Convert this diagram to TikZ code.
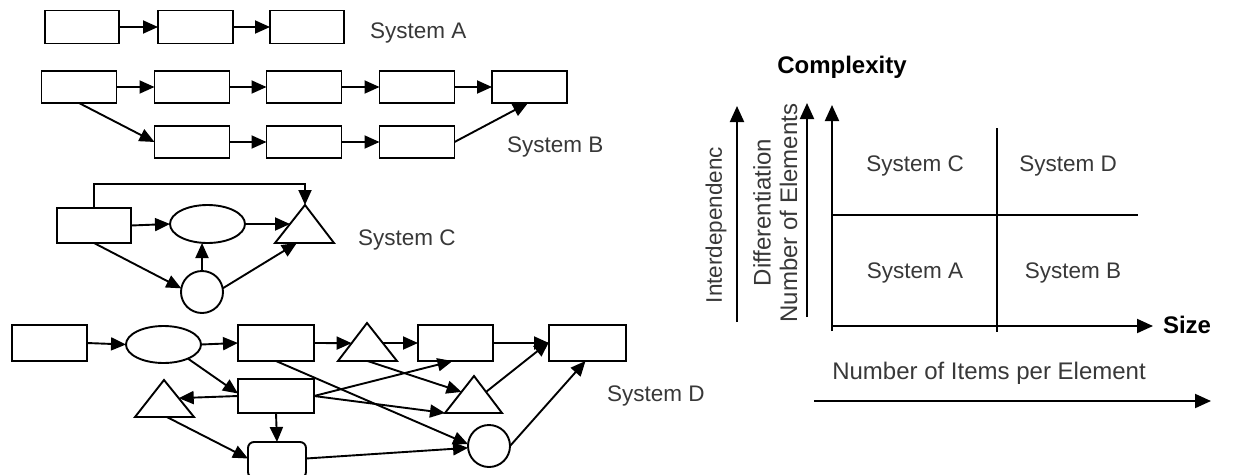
\documentclass[tikz,border=0pt]{standalone}
\usepackage{fontspec}
\setmainfont{Liberation Sans}
\usetikzlibrary{arrows.meta,shapes.geometric,calc}
\begin{document}
\begin{tikzpicture}[x=1pt,y=-1pt,
  every node/.style={inner sep=0pt, outer sep=0pt},
  ln/.style={line width=1.9pt, line join=miter},
  box/.style={draw, ln, rectangle, minimum width=75pt, minimum height=33pt, fill=white},
  rbox/.style={box, rounded corners=6pt},
  oval/.style={draw, ln, ellipse, minimum width=75pt, minimum height=38pt, fill=white},
  ring/.style={draw, ln, circle, minimum size=42pt, fill=white},
  tri/.style={draw, ln, fill=white},
  arr/.style={ln, -{Triangle[length=15pt,width=13pt]}},
  axis/.style={line width=2pt, -{Triangle[length=16pt,width=14pt]}},
  grid/.style={line width=1.5pt},
  lbl/.style={text=black!78, font=\fontsize{22.5}{26}\selectfont},
  lblw/.style={text=black!78, font=\fontsize{24}{28}\selectfont},
  head/.style={text=black, font=\fontsize{24}{28}\selectfont\bfseries},
]
\fill[white] (0,0) rectangle (1247,474);
\useasboundingbox (0,0) rectangle (1247,474);

% ---------------- System A: a simple chain ----------------
\node[box, minimum width=74pt] (a1) at (82,27) {};
\node[box] (a2) at (195.5,27) {};
\node[box, minimum width=74pt] (a3) at (307,27) {};
\draw[arr] (a1.east) -- (a2.west);
\draw[arr] (a2.east) -- (a3.west);
\node[lbl, anchor=west] (labA) at (370,33) {System A};

% ---------------- System B: two parallel chains ----------------
\foreach \n/\x in {b1/79, b2/192, b3/304, b4/417, b5/529.5}
  \node[box, minimum height=32pt] (\n) at (\x,87) {};
\foreach \n/\x in {b6/192, b7/304, b8/417}
  \node[box, minimum height=32pt] (\n) at (\x,142) {};
\draw[arr] (b1.east) -- (b2.west);
\draw[arr] (b2.east) -- (b3.west);
\draw[arr] (b3.east) -- (b4.west);
\draw[arr] (b4.east) -- (b5.west);
\draw[arr] (b1.south) -- (b6.west);
\draw[arr] (b6.east) -- (b7.west);
\draw[arr] (b7.east) -- (b8.west);
\draw[arr] (b8.east) -- ([xshift=-1.5pt]b5.south);
\node[lbl, anchor=west] (labB) at (507,147) {System B};

% ---------------- System C: mixed elements with feedback ----------------
\node[box, minimum width=74pt, minimum height=35pt] (c1) at (94,225.5) {};
\node[oval] (ce) at (207.5,224) {};
\node[ring] (cc) at (202,292) {};
\draw[tri] (275,243) coordinate (ctl) -- (305,205) coordinate (cta)
  -- (334,243) coordinate (ctr) -- cycle;
\coordinate (cbend) at (305,184);
\draw[arr] (c1.north) |- (cbend) -- (cta);
\draw[arr] (c1.east) -- (ce.west);
\draw[arr] (ce.east) -- ($(ctl)!0.5!(cta)$);
\draw[arr] (c1.south) -- (cc.170);
\draw[arr] (cc.north) -- ([xshift=-5.5pt]ce.south);
\draw[arr] (cc.10) -- ($(ctl)!0.37!(ctr)$);
\node[lbl, anchor=west] (labC) at (358,240) {System C};

% ---------------- System D: dense network ----------------
\node[box, minimum height=36pt] (r1) at (49.5,343) {};
\node[oval, minimum height=37pt] (e1) at (163.5,344.5) {};
\node[box, minimum width=76pt, minimum height=36pt] (r2) at (276,343) {};
\node[box, minimum height=36pt] (r3) at (455.5,343) {};
\node[box, minimum width=77pt, minimum height=36pt] (r4) at (587.5,343) {};
\node[box, minimum width=76pt, minimum height=34pt] (r5) at (276,396) {};
\node[rbox, minimum width=58pt, minimum height=36pt] (rr) at (277,460) {};
\node[ring] (c2) at (489,446) {};
\draw[tri] (338,361) coordinate (t1l) -- (367,323) coordinate (t1a)
  -- (397,361) coordinate (t1r) -- cycle;
\draw[tri] (445,413) coordinate (t2l) -- (474,376) coordinate (t2a)
  -- (502,413) coordinate (t2r) -- cycle;
\draw[tri] (135,417) coordinate (t3l) -- (164,380) coordinate (t3a)
  -- (194,417) coordinate (t3r) -- cycle;

\draw[arr] (r1.east) -- (e1.west);
\draw[arr] (e1.east) -- (r2.west);
\draw[arr] (r2.east) -- ($(t1l)!0.47!(t1a)$);
\draw[arr] ($(t1a)!0.526!(t1r)$) -- (r3.west);
\draw[arr] (r3.east) -- (r4.west);
\draw[arr] ($(t2a)!0.43!(t2r)$) -- ([yshift=1pt]r4.west);
\draw[arr] (e1.-30) -- ([yshift=2.5pt]r5.west);
\draw[arr] (r5.west) -- ($(t3a)!0.49!(t3r)$);
\draw[arr] (r5.south) -- (rr.north);
\draw[arr] ($(t3l)!0.54!(t3r)$) -- ([yshift=1.5pt]rr.west);
\draw[arr] (r2.south) -- (c2.175);
\draw[arr] ($(t1l)!0.5!(t1r)$) -- ($(t2l)!0.57!(t2a)$);
\draw[arr] (r5.east) -- ([xshift=-3pt]r3.south);
\draw[arr] (r5.east) -- (t2l);
\draw[arr] ([yshift=1.5pt]rr.east) -- (c2.185);
\draw[arr] (c2.east) -- ([xshift=-2pt]r4.south);
\node[lbl, anchor=west] (labD) at (607,396) {System D};

% ---------------- Complexity chart ----------------
\node[head] (cx) at (842,67) {Complexity};

\coordinate (v1a) at (737,322);
\coordinate (v1b) at (737,106);
\draw[axis] (v1a) -- (v1b);
\node[lbl, rotate=90] (inter) at (716,225) {Interdependenc};

\coordinate (v2a) at (807,317);
\coordinate (v2b) at (807,103);
\draw[axis] (v2a) -- (v2b);
\node[lblw, rotate=90] (diff) at (762,212.5) {Differentiation};
\node[lblw, rotate=90] (nel) at (788.5,213) {Number of Elements};

\coordinate (org) at (832,326);
\coordinate (ybot) at (832,331);
\coordinate (ytop) at (832,105);
\coordinate (xend) at (1153,326);
\draw[axis] (ybot) -- (ytop);
\draw[axis] (org) -- (xend);
\node[head, anchor=west] (size) at (1163,325) {Size};

\coordinate (mv1) at (997,128);
\coordinate (mv2) at (997,332);
\coordinate (mh1) at (832,215);
\coordinate (mh2) at (1138,215);
\draw[grid] (mv1) -- (mv2);
\draw[grid] (mh1) -- (mh2);

\node[lbl] (qc) at (915,166) {System C};
\node[lbl] (qd) at (1068,166) {System D};
\node[lbl] (qa) at (915,273) {System A};
\node[lbl] (qb) at (1073,273) {System B};

\node[lblw] (items) at (989,373) {Number of Items per Element};
\coordinate (ia) at (814,401);
\coordinate (ib) at (1211,401);
\draw[axis] (ia) -- (ib);
\end{tikzpicture}
\end{document}
